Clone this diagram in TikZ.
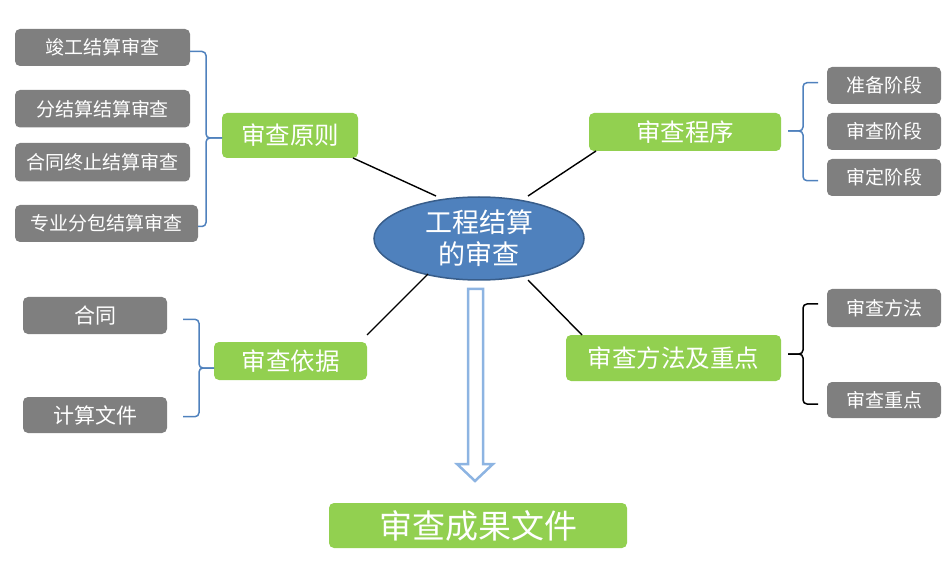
\documentclass[tikz,border=0pt]{standalone}
\usepackage{fontspec}
\newfontfamily\cjk{Noto Sans CJK SC}
\usetikzlibrary{shapes.geometric}
\definecolor{boxgray}{HTML}{7F7F7F}
\definecolor{boxgreen}{HTML}{92D050}
\definecolor{bracketblue}{HTML}{4F81BD}
\definecolor{ellfill}{HTML}{4F81BD}
\definecolor{elldraw}{HTML}{385D8A}
\definecolor{arrowblue}{HTML}{8DB4E2}
\tikzset{
  graybox/.style={fill=boxgray, rounded corners=5pt, text=white, inner sep=0pt, outer sep=0pt, font=\cjk\fontsize{19}{22}\selectfont},
  greenbox/.style={fill=boxgreen, rounded corners=5pt, text=white, inner sep=0pt, outer sep=0pt, font=\cjk\fontsize{24.5}{28}\selectfont},
  brace/.style={draw=bracketblue, line width=1.5pt, rounded corners=4pt},
  blackbrace/.style={draw=black, line width=1.5pt, rounded corners=4pt},
  link/.style={draw=black, line width=1.4pt},
}
\begin{document}
\begin{tikzpicture}[x=1pt,y=-1pt]
\useasboundingbox (0,0) rectangle (951,580);
% center
\node[ellipse, fill=ellfill, draw=elldraw, line width=1.5pt, minimum width=210pt, minimum height=83pt, inner sep=0pt, text=white, align=center, font=\cjk\fontsize{27}{32}\selectfont] (center) at (479,238.5) {工程结算\\的审查};
% green boxes
\node[greenbox, minimum width=136pt, minimum height=45pt] (principle) at (290,135.5) {审查原则};
\node[greenbox, minimum width=192pt, minimum height=38pt] (procedure) at (685,132) {审查程序};
\node[greenbox, minimum width=153pt, minimum height=38pt] (basis) at (290.5,361) {审查依据};
\node[greenbox, minimum width=215pt, minimum height=46pt] (method) at (673.5,358) {审查方法及重点};
\node[greenbox, minimum width=298pt, minimum height=45pt, font=\cjk\fontsize{33}{36}\selectfont] (result) at (478,525.5) {审查成果文件};
% gray boxes left top
\node[graybox, minimum width=175pt, minimum height=37pt] (p1) at (102.5,47.5) {竣工结算审查};
\node[graybox, minimum width=175pt, minimum height=37.5pt] (p2) at (102.5,108.75) {分结算结算审查};
\node[graybox, minimum width=175pt, minimum height=38.5pt] (p3) at (102.5,162.25) {合同终止结算审查};
\node[graybox, minimum width=183pt, minimum height=37pt] (p4) at (106.5,223.5) {专业分包结算审查};
% gray boxes right top
\node[graybox, minimum width=114pt, minimum height=37pt] (r1) at (884,85.5) {准备阶段};
\node[graybox, minimum width=114pt, minimum height=37pt] (r2) at (884,131.5) {审查阶段};
\node[graybox, minimum width=114pt, minimum height=37pt] (r3) at (884,177.5) {审定阶段};
% gray boxes left bottom
\node[graybox, minimum width=144pt, minimum height=37pt, font=\cjk\fontsize{21}{24}\selectfont] (b1) at (95,315.5) {合同};
\node[graybox, minimum width=144pt, minimum height=36pt, font=\cjk\fontsize{21}{24}\selectfont] (b2) at (95,415) {计算文件};
% gray boxes right bottom
\node[graybox, minimum width=114pt, minimum height=38pt] (m1) at (884,308) {审查方法};
\node[graybox, minimum width=114pt, minimum height=36pt] (m2) at (884,400) {审查重点};
% connectors from center
\coordinate (cP) at (436,196);
\coordinate (cR) at (528,196);
\coordinate (cB) at (428,274);
\coordinate (cM) at (528,280);
\draw[link] (principle.south east) ++(-5,0) coordinate (pP) -- (cP);
\draw[link] (procedure.south west) ++(7,0) coordinate (pR) -- (cR);
\draw[link] (basis.north east) ++(0,-7) coordinate (pB) -- (cB);
\draw[link] (method.north west) ++(16,0) coordinate (pM) -- (cM);
% brackets: principle
\draw[brace] (p1.east |- 0,51.5) -- (206,51.5) -- (206,138) -- (principle.west |- 0,138);
\draw[brace] (p4.east |- 0,226.5) -- (206,226.5) -- (206,138) -- (principle.west |- 0,138);
% procedure
\draw[brace] (818,82.7) -- (803,82.7) -- (803,131) -- (788,131);
\draw[brace] (818,180.7) -- (803,180.7) -- (803,131) -- (788,131);
% basis
\draw[brace] (183,319.3) -- (199,319.3) -- (199,368) -- (basis.west |- 0,368);
\draw[brace] (183,416.7) -- (199,416.7) -- (199,368) -- (basis.west |- 0,368);
% method (black)
\draw[blackbrace] (818,304) -- (803,304) -- (803,354) -- (788,354);
\draw[blackbrace] (818,404) -- (803,404) -- (803,354) -- (788,354);
% hollow arrow
\draw[draw=arrowblue, line width=2.5pt, fill=white, line join=miter]
  (468,289) -- (483,289) -- (483,464) -- (493,464) -- (475,481) -- (457,464) -- (468,464) -- cycle;
\end{tikzpicture}
\end{document}
